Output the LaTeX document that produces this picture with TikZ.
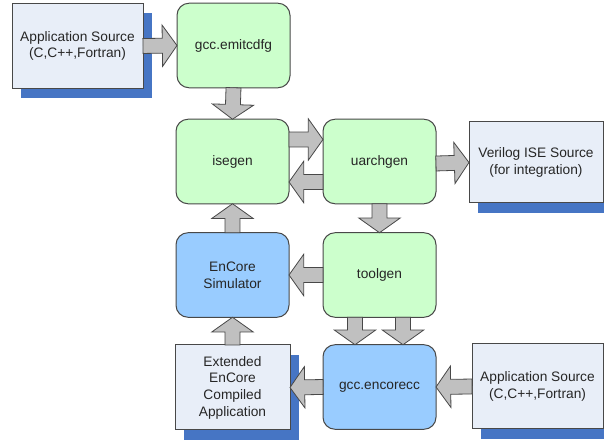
\documentclass[tikz,border=0pt]{standalone}
\usepackage{fontspec}
\setmainfont{Liberation Sans}
\usetikzlibrary{calc,shadows}

\definecolor{boxgreen}{RGB}{204,255,204}
\definecolor{boxblue}{RGB}{153,204,255}
\definecolor{boxpale}{RGB}{232,238,248}
\definecolor{shadowblue}{RGB}{70,117,196}
\definecolor{arrowgray}{RGB}{192,192,192}
\definecolor{edgegray}{RGB}{72,72,72}

\newcommand{\fatarrow}[2]{%
  \draw[fat] let \p1=(#1), \p2=(#2), \n1={atan2(\y2-\y1,\x2-\x1)}, \n2={veclen(\x2-\x1,\y2-\y1)} in
    [shift={(\p1)}, rotate=\n1]
    (0pt,-5.6pt) -- ({\n2-11pt},-5.6pt) -- ({\n2-11pt},-15.5pt) -- (\n2,0pt)
    -- ({\n2-11pt},15.5pt) -- ({\n2-11pt},5.6pt) -- (0pt,5.6pt) -- cycle;}

\begin{document}
\begin{tikzpicture}[x=0.75pt, y=-0.75pt,
    every node/.style={font=\fontsize{10.3}{12.5}\selectfont, text=black!85, align=center, outer sep=0pt},
    tool/.style={draw=edgegray, line width=0.75pt, rounded corners=9pt, minimum width=84.75pt, minimum height=63.4pt},
    gentool/.style={tool, fill=boxgreen},
    coretool/.style={tool, fill=boxblue},
    source/.style={draw=edgegray, line width=0.75pt, fill=boxpale, minimum width=98.25pt, minimum height=63.4pt,
      drop shadow={shadow xshift=6.8pt, shadow yshift=-7.3pt, fill=shadowblue, opacity=1}},
    fat/.style={draw=edgegray, line width=0.6pt, fill=arrowgray}]
  \useasboundingbox (0,0) rectangle (604,441);

  \node[source] (appsrc) at (77.5,46) {Application Source\\(C,C++,Fortran)};
  \node[gentool] (emit) at (233.5,45.5) {gcc.emitcdfg};
  \node[gentool] (isegen) at (232.5,161.5) {isegen};
  \node[gentool] (uarchgen) at (379.5,161.5) {uarchgen};
  \node[source, minimum width=100.5pt, minimum height=60.75pt] (verilog) at (536,162.5) {Verilog ISE Source\\(for integration)};
  \node[gentool] (toolgen) at (379.5,275) {toolgen};
  \node[coretool] (sim) at (232.5,275) {EnCore\\Simulator};
  \node[source, minimum width=86.25pt, minimum height=63.75pt] (extapp) at (232.5,387.5) {Extended\\EnCore\\Compiled\\Application};
  \node[coretool] (encorecc) at (379.5,387) {gcc.encorecc};
  \node[source, minimum height=63.75pt] (appsrc2) at (537.5,386.5) {Application Source\\(C,C++,Fortran)};

  \fatarrow{appsrc.east}{emit.west}
  \fatarrow{emit.south}{isegen.north}
  \fatarrow{$(isegen.east)+(0,-22)$}{$(uarchgen.west)+(0,-22)$}
  \fatarrow{$(uarchgen.west)+(0,20.5)$}{$(isegen.east)+(0,20.5)$}
  \fatarrow{$(uarchgen.east)+(0,2)$}{verilog.west}
  \fatarrow{uarchgen.south}{toolgen.north}
  \fatarrow{toolgen.west}{sim.east}
  \fatarrow{sim.north}{isegen.south}
  \fatarrow{extapp.north}{sim.south}
  \fatarrow{$(toolgen.south)+(-24.5,0)$}{$(encorecc.north)+(-24.5,0)$}
  \fatarrow{$(toolgen.south)+(23.5,0)$}{$(encorecc.north)+(23.5,0)$}
  \fatarrow{encorecc.west}{extapp.east}
  \fatarrow{appsrc2.west}{encorecc.east}
\end{tikzpicture}
\end{document}
